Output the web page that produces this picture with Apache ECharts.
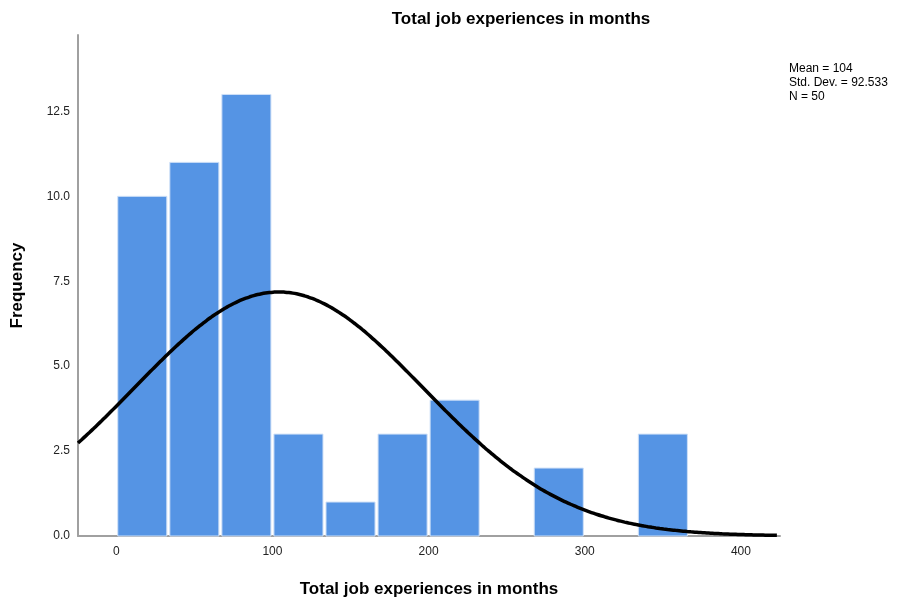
<!DOCTYPE html>
<html>
<head>
<meta charset="utf-8">
<script src="https://cdn.jsdelivr.net/npm/echarts@6/dist/echarts.min.js"></script>
<style>
  html, body { margin: 0; padding: 0; background: #fff; }
  #chart { width: 904px; height: 603px; }
</style>
</head>
<body>
<div id="chart"></div>
<script>
// Histogram of total job experience (months) with a fitted normal curve
const binStarts = [0, 33.33, 66.67, 100, 133.33, 166.67, 200, 233.33, 266.67, 300, 333.33];
const binWidth = 33.33;
const frequencies = [10, 11, 13, 3, 1, 3, 4, 0, 2, 0, 3];
const xTicks = [0, 100, 200, 300, 400];
const yTicks = [0, 2.5, 5, 7.5, 10, 12.5];

// Summary statistics shown beside the plot
const statMean = 104;
const statStdDev = 92.533;
const statN = 50;

const xMin = -24.5, xMax = 425;

// Normal density scaled to counts per bin
const curve = [];
for (let x = xMin; x <= xMax + 0.001; x += 2.5) {
  const z = (x - statMean) / statStdDev;
  const y = statN * binWidth * Math.exp(-0.5 * z * z) / (statStdDev * Math.sqrt(2 * Math.PI));
  curve.push([x, y]);
}

const bars = binStarts.map((s, i) => [s, s + binWidth, frequencies[i]]);

const chart = echarts.init(document.getElementById('chart'), null, { renderer: 'canvas' });
const font = 'Liberation Sans, Arial, sans-serif';

chart.setOption({
  animation: false,
  backgroundColor: '#ffffff',
  title: {
    text: 'Total job experiences in months',
    left: 516,
    top: 6,
    textAlign: 'center',
    textStyle: { fontFamily: font, fontSize: 17, fontWeight: 'bold', color: '#000' }
  },
  grid: { left: 78, right: 124, top: 35, bottom: 66, containLabel: false },
  xAxis: {
    type: 'value',
    min: xMin,
    max: xMax,
    name: 'Total job experiences in months',
    nameLocation: 'middle',
    nameGap: 45,
    nameTextStyle: { fontFamily: font, fontSize: 17, fontWeight: 'bold', color: '#000' },
    axisLine: { show: true, onZero: false, lineStyle: { color: '#a0a0a0', width: 2 } },
    axisTick: { show: false },
    splitLine: { show: false },
    axisLabel: {
      fontFamily: font, fontSize: 12, color: '#222', margin: 10,
      customValues: xTicks,
      formatter: v => String(v)
    }
  },
  yAxis: {
    type: 'value',
    min: 0,
    max: 14.75,
    name: 'Frequency',
    nameLocation: 'middle',
    nameGap: 52,
    nameTextStyle: { fontFamily: font, fontSize: 17, fontWeight: 'bold', color: '#000' },
    axisLine: { show: true, onZero: false, lineStyle: { color: '#a0a0a0', width: 2 } },
    axisTick: { show: false },
    splitLine: { show: false },
    axisLabel: {
      fontFamily: font, fontSize: 12, color: '#222', margin: 8,
      customValues: yTicks,
      formatter: v => v.toFixed(1)
    }
  },
  series: [
    {
      type: 'custom',
      data: bars,
      encode: { x: [0, 1], y: 2 },
      z: 2,
      renderItem: function (params, api) {
        const p0 = api.coord([api.value(0), 0]);
        const p1 = api.coord([api.value(1), api.value(2)]);
        if (api.value(2) <= 0) return null;
        return {
          type: 'rect',
          shape: { x: p0[0] + 1.5, y: p1[1], width: p1[0] - p0[0] - 3, height: p0[1] - p1[1] },
          style: { fill: '#5594e4', stroke: '#cfe0f7', lineWidth: 1 }
        };
      }
    },
    {
      type: 'line',
      data: curve,
      showSymbol: false,
      smooth: true,
      z: 3,
      lineStyle: { color: '#000', width: 3.5 }
    }
  ],
  graphic: [
    {
      type: 'text',
      left: 789,
      top: 62,
      style: {
        text: 'Mean = ' + statMean + '\nStd. Dev. = ' + statStdDev + '\nN = ' + statN,
        fontFamily: font, fontSize: 12, lineHeight: 14, fill: '#000'
      }
    }
  ]
});
</script>
</body>
</html>
